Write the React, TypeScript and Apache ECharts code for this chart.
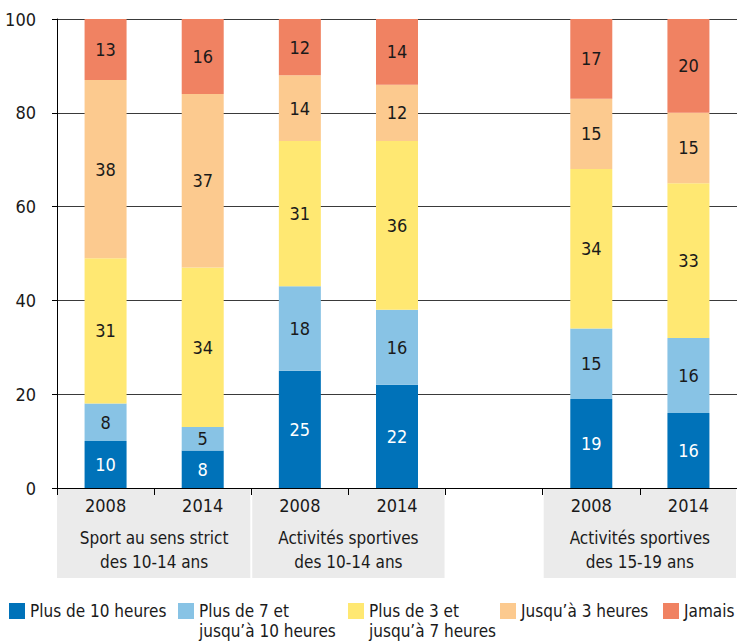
import React, { useEffect, useRef } from "react";
import * as echarts from "echarts";

// ---- data ----
const categories = ["2008", "2014", "2008", "2014", "", "2008", "2014"];
const groupLabels = [
  "Sport au sens strict\ndes 10-14 ans",
  "Activités sportives\ndes 10-14 ans",
  "Activités sportives\ndes 15-19 ans",
];
const groupSlots = [
  [0, 1],
  [2, 3],
  [5, 6],
];
const seriesNames = [
  "Plus de 10 heures",
  "Plus de 7 et jusqu’à 10 heures",
  "Plus de 3 et jusqu’à 7 heures",
  "Jusqu’à 3 heures",
  "Jamais",
];
const legendLabels = [
  "Plus de 10 heures",
  "Plus de 7 et\njusqu’à 10 heures",
  "Plus de 3 et\njusqu’à 7 heures",
  "Jusqu’à 3 heures",
  "Jamais",
];
const plus10 = [10, 8, 25, 22, null, 19, 16];
const plus7 = [8, 5, 18, 16, null, 15, 16];
const plus3 = [31, 34, 31, 36, null, 34, 33];
const upTo3 = [38, 37, 14, 12, null, 15, 15];
const never = [13, 16, 12, 14, null, 17, 20];
const seriesValues = [plus10, plus7, plus3, upTo3, never];
const yMin = 0;
const yMax = 100;
const yInterval = 20;

// ---- style ----
const colors = ["#0072B9", "#88C3E5", "#FFE872", "#FCCA8F", "#F08262"];
const labelColors = ["#ffffff", "#1a1a1a", "#1a1a1a", "#1a1a1a", "#1a1a1a"];
const FONT = "'DejaVu Sans Condensed', 'Liberation Sans Narrow', sans-serif";
const FS = 18;
const FS_SMALL = 17;
const TEXT = "#1a1a1a";
const legendLefts = [9, 178, 348, 500, 663];

export default function App() {
  const ref = useRef<HTMLDivElement>(null);
  useEffect(() => {
    document.body.style.margin = "0";
    const el = ref.current!;
    const chart = echarts.init(el, null, { renderer: "svg" });
    const option: any = {
      animation: false,
      textStyle: { fontFamily: FONT },
      grid: { left: 57, right: 0, top: 19, bottom: 156, containLabel: false },
      legend: seriesNames.map((name, i) => {
        const multi = legendLabels[i].includes("\n");
        return {
          left: legendLefts[i],
          top: multi ? 581 : 601,
          orient: "horizontal",
          selectedMode: false,
          icon: "rect",
          itemWidth: 16,
          itemHeight: 16,
          padding: 0,
          // a leading empty line keeps the first text line level with the swatch
          formatter: () => (multi ? "\n" + legendLabels[i] : legendLabels[i]),
          textStyle: {
            fontFamily: FONT,
            fontSize: FS_SMALL,
            color: TEXT,
            lineHeight: 20,
          },
          data: [name],
        };
      }),
      xAxis: {
        type: "category",
        data: categories,
        axisLine: { show: true, lineStyle: { color: "#000", width: 1 } },
        axisTick: { show: true, length: 7, interval: 0, alignWithLabel: false, lineStyle: { color: "#000" } },
        axisLabel: { interval: 0, fontSize: FS, color: TEXT, margin: 8, fontFamily: FONT },
        splitLine: { show: false },
      },
      yAxis: {
        type: "value",
        min: yMin,
        max: yMax,
        interval: yInterval,
        axisLine: { show: true, lineStyle: { color: "#000", width: 1 } },
        axisTick: { show: true, length: 5, lineStyle: { color: "#000" } },
        axisLabel: { fontSize: FS, color: TEXT, margin: 21, fontFamily: FONT },
        splitLine: { show: true, lineStyle: { color: "#3a3a3a", width: 1 } },
      },
      series: seriesNames.map((name, i) => ({
        name,
        type: "bar",
        stack: "total",
        barWidth: 42,
        data: seriesValues[i].map((v) => (v == null ? "-" : v)),
        itemStyle: { color: colors[i] },
        label: {
          show: true,
          position: "inside",
          formatter: "{c}",
          fontSize: FS,
          fontFamily: FONT,
          color: labelColors[i],
        },
      })),
    };
    chart.setOption(option);

    const cx = (i: number) => chart.convertToPixel({ xAxisIndex: 0 }, i) as number;
    const slot = cx(1) - cx(0);
    const yBase = chart.convertToPixel({ yAxisIndex: 0 }, 0) as number;
    const graphics: any[] = [];
    groupSlots.forEach(([a, b], gi) => {
      const left = cx(a) - slot / 2;
      const right = cx(b) + slot / 2;
      const l = gi === 0 ? left : left + 1;
      const r = right - 1;
      graphics.push({
        type: "rect",
        silent: true,
        z: -10,
        shape: { x: l, y: yBase + 1, width: r - l, height: 89 },
        style: { fill: "#EBEBEB" },
      });
      graphics.push({
        type: "text",
        silent: true,
        x: (left + right) / 2,
        y: yBase + 38,
        style: {
          text: groupLabels[gi],
          fontSize: FS_SMALL,
          fontFamily: FONT,
          fill: TEXT,
          align: "center",
          verticalAlign: "top",
          lineHeight: 24,
        },
      });
    });
    chart.setOption({ graphic: graphics });

    return () => chart.dispose();
  }, []);
  return <div ref={ref} style={{ width: 737, height: 644 }} />;
}
